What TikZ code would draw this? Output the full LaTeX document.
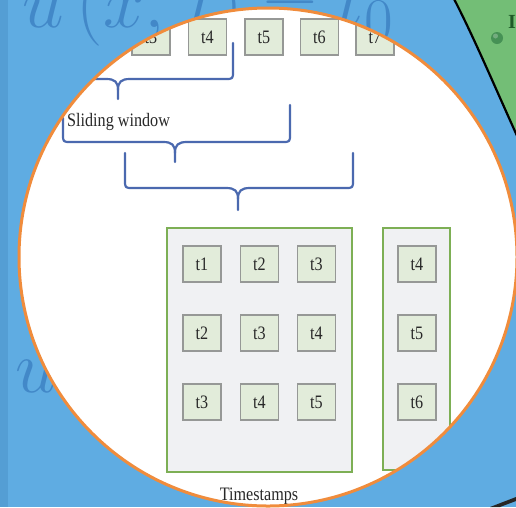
\documentclass[tikz,border=0pt]{standalone}
\usepackage[no-math]{fontspec}
\setmainfont{Liberation Serif}
\newfontfamily\labfont[FakeStretch=0.85]{Liberation Serif}
\definecolor{bgblue}{RGB}{95,172,226}
\definecolor{stripblue}{RGB}{84,158,212}
\definecolor{mathblue}{RGB}{66,136,200}
\definecolor{greenc}{RGB}{115,190,118}
\definecolor{dotgreen}{RGB}{70,145,85}
\definecolor{darkgreen}{RGB}{30,90,40}
\definecolor{orangec}{RGB}{240,140,60}
\definecolor{bracecol}{RGB}{75,105,175}
\definecolor{boxedge}{RGB}{150,152,150}
\definecolor{boxfill}{RGB}{226,236,218}
\definecolor{grpedge}{RGB}{125,175,85}
\definecolor{grpfill}{RGB}{240,241,243}
\definecolor{labtext}{RGB}{40,40,40}
\begin{document}
\begin{tikzpicture}[x=1pt,y=-1pt,
  tbox/.style={draw=boxedge, fill=boxfill, line width=1.1pt, minimum width=38pt, minimum height=36pt, inner sep=0pt, font=\labfont\fontsize{19}{19}\selectfont, text=labtext},
  grp/.style={draw=grpedge, fill=grpfill, line width=2.5pt, inner sep=0pt},
  brace/.style={draw=bracecol, line width=2.2pt, line cap=round, line join=round},
  lab/.style={font=\labfont\fontsize{19}{19}\selectfont, text=labtext, inner sep=0pt},
  bgmath/.style={text=mathblue, inner sep=0pt, scale=3.0, font=\Huge}]
\useasboundingbox (0,0) rectangle (516,507);
% background
\fill[bgblue] (0,0) rectangle (516,507);
\fill[stripblue] (0,0) rectangle (8,507);
\node[bgmath, anchor=base west] (eq1) at (22,27) {$u\,(x,\,t)=t_0$};
\node[bgmath, anchor=base west] (eq2) at (15,392) {$u$};
% green disc at top right
\fill[greenc] (452,-5) .. controls (478,45) and (500,100) .. (535,175) -- (535,-5) -- cycle;
\draw[black, line width=2.2pt] (452,-5) .. controls (478,45) and (500,100) .. (535,175);
\fill[dotgreen] (497,38) circle [radius=6pt];
\fill[white, opacity=0.25] (495.5,36) circle [radius=2.5pt];
\node[font=\bfseries\fontsize{20}{20}\selectfont, text=darkgreen, anchor=base west, inner sep=0pt] (ltr) at (508,28) {I};
\fill[black!85] (490,507) -- (516,497) -- (516,501) -- (500,507) -- cycle;
% white lens
\fill[white] (268,257) circle [radius=249pt];
\begin{scope}
\clip (268,257) circle [radius=249pt];
% top row of timestamps
\node[tbox] (a3) at (151,37) {t3};
\node[tbox] (a4) at (207.5,37) {t4};
\node[tbox] (a5) at (264,37) {t5};
\node[tbox] (a6) at (319.5,37) {t6};
\node[tbox] (a7) at (375,37) {t7};
% braces
\draw[brace] (3,43) -- (3,71) .. controls (3,79) .. (11,79) -- (106,79)
  .. controls (115,79) and (118,82) .. (118,90) -- (118,99);
\draw[brace] (118,90) .. controls (118,82) and (121,79) .. (130,79) -- (225,79)
  .. controls (233,79) .. (233,71) -- (233,43);
\draw[brace] (63,118) -- (63,134) .. controls (63,142) .. (71,142) -- (163,142)
  .. controls (172,142) and (175,145) .. (175,153) -- (175,162);
\draw[brace] (175,153) .. controls (175,145) and (178,142) .. (187,142) -- (282,142)
  .. controls (290,142) .. (290,134) -- (290,105);
\draw[brace] (125,153) -- (125,180) .. controls (125,188) .. (133,188) -- (226,188)
  .. controls (235,188) and (238,191) .. (238,199) -- (238,210);
\draw[brace] (238,199) .. controls (238,191) and (241,188) .. (250,188) -- (345,188)
  .. controls (353,188) .. (353,180) -- (353,153);
\node[lab, anchor=base west] (sw) at (67,126) {Sliding window};
% groups
\node[grp, minimum width=185pt, minimum height=244pt] (g1) at (259.5,350) {};
\node[grp, minimum width=67pt, minimum height=242pt] (g2) at (416.5,349) {};
\node[tbox] (b11) at (202,264) {t1};
\node[tbox] (b12) at (259.5,264) {t2};
\node[tbox] (b13) at (316.5,264) {t3};
\node[tbox] (b21) at (202,333) {t2};
\node[tbox] (b22) at (259.5,333) {t3};
\node[tbox] (b23) at (316.5,333) {t4};
\node[tbox] (b31) at (202,402) {t3};
\node[tbox] (b32) at (259.5,402) {t4};
\node[tbox] (b33) at (316.5,402) {t5};
\node[tbox] (c1) at (417,264) {t4};
\node[tbox] (c2) at (417,333) {t5};
\node[tbox] (c3) at (417,402) {t6};
\node[lab, anchor=base] (ts) at (259,500) {Timestamps};
\end{scope}
\draw[orangec, line width=3pt] (268,257) circle [radius=249pt];
\end{tikzpicture}
\end{document}
